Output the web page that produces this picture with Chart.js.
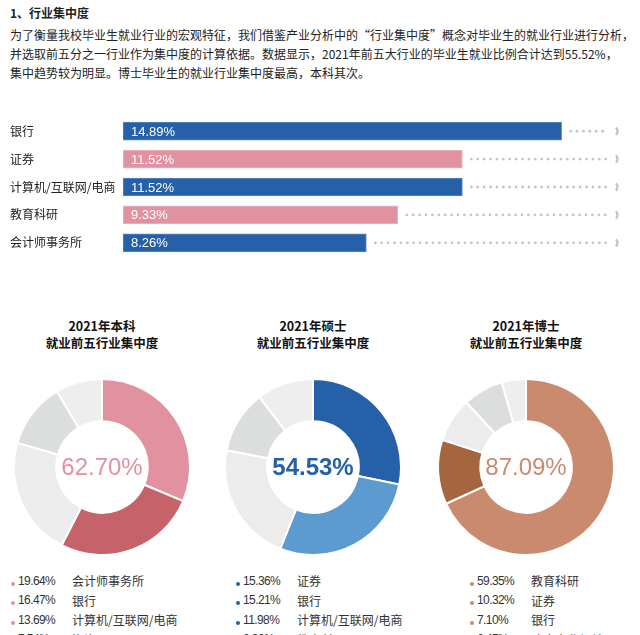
<!DOCTYPE html>
<html>
<head>
<meta charset="utf-8">
<script src="https://cdn.jsdelivr.net/npm/chart.js"></script>
<style>
  body { margin: 0; width: 640px; height: 635px; overflow: hidden; background: #fff;
    font-family: "Noto Sans CJK SC", sans-serif; color: #222; position: relative; }
  .title { position: absolute; left: 10px; top: 4px; font-size: 12px; font-weight: bold; }
  .intro { position: absolute; left: 10px; top: 25px; font-size: 12px; line-height: 19px; white-space: nowrap; }
  .box { position: absolute; }
  .pie-title { position: absolute; width: 200px; text-align: center; font-size: 12.5px; font-weight: bold; line-height: 17px; top: 317px; color: #111; }
  .legend { position: absolute; top: 571px; font-size: 12px; color: #333; }
  .legend .row { display: flex; align-items: center; height: 19.5px; white-space: nowrap; }
  .legend .dot { width: 4px; height: 4px; border-radius: 50%; margin-right: 3px; transform: translateY(3px); }
  .legend .val { width: 54px; font-family: "Liberation Sans", sans-serif; letter-spacing: -0.6px; }
</style>
</head>
<body>
<div class="title">1、行业集中度</div>
<div class="intro">为了衡量我校毕业生就业行业的宏观特征，我们借鉴产业分析中的“行业集中度”概念对毕业生的就业行业进行分析，<br>并选取前五分之一行业作为集中度的计算依据。数据显示，2021年前五大行业的毕业生就业比例合计达到55.52%，<br>集中趋势较为明显。博士毕业生的就业行业集中度最高，本科其次。</div>

<div class="box" style="left:0;top:110px;width:640px;height:154px;"><canvas id="bars"></canvas></div>

<div id="pies"></div>

<script>
// top industries, all graduates
const barCategories = ["银行", "证券", "计算机/互联网/电商", "教育科研", "会计师事务所"];
const barValues = [14.89, 11.52, 11.52, 9.33, 8.26];

// top five per degree
const pieTitles = ["2021年本科", "2021年硕士", "2021年博士"];
const bachelorNames = ["会计师事务所", "银行", "计算机/互联网/电商", "咨询", "证券"];
const bachelorValues = [19.64, 16.47, 13.69, 7.54, 5.36];
const masterNames = ["证券", "银行", "计算机/互联网/电商", "教育科研", "会计师事务所"];
const masterValues = [15.36, 15.21, 11.98, 6.30, 5.68];
const doctorNames = ["教育科研", "证券", "银行", "政府事业机关", "医疗卫生"];
const doctorValues = [59.35, 10.32, 7.10, 6.45, 3.87];

const BLUE = "#2560a8";
const PINK = "#e191a0";
const barColors = [BLUE, PINK, BLUE, PINK, BLUE];
const barBorders = ["#5a88c2", "#eeb9c2", "#5a88c2", "#eeb9c2", "#5a88c2"];

const pieSets = [
  { names: bachelorNames, values: bachelorValues, colors: ["#e191a0", "#c6636a", "#ececec", "#dcdedd", "#eeeeee"], cx: 102, legendX: 11 },
  { names: masterNames, values: masterValues, colors: ["#2560a8", "#5b9bd0", "#ececec", "#dcdedd", "#eeeeee"], cx: 313, legendX: 236 },
  { names: doctorNames, values: doctorValues, colors: ["#c98a6d", "#a5663f", "#ececec", "#dcdedd", "#eeeeee"], cx: 526, legendX: 470 },
];

window.addEventListener("load", (e) => {
  renderBars();
  renderPies();
});

/*************************************************************
 * Bar chart with dotted tracks
 *************************************************************/
const barDecor = {
  id: "barDecor",
  afterDatasetsDraw(chart) {
    const { ctx, chartArea } = chart;
    const x0 = chart.scales.x.getPixelForValue(0);
    chart.getDatasetMeta(0).data.forEach((bar, i) => {
      ctx.save();
      ctx.fillStyle = "#c4c4c4";
      for (let x = bar.x + 9; x < chartArea.right - 3; x += 6.4) {
        ctx.beginPath();
        ctx.arc(x, bar.y, 1.4, 0, Math.PI * 2);
        ctx.fill();
      }
      ctx.strokeStyle = "#c4c4c4";
      ctx.lineWidth = 2.4;
      ctx.beginPath();
      ctx.arc(chartArea.right + 1, bar.y, 4.5, -0.9, 0.9);
      ctx.stroke();

      ctx.fillStyle = "#fff";
      ctx.font = "13px 'Liberation Sans'";
      ctx.textBaseline = "middle";
      ctx.fillText(barValues[i].toFixed(2) + "%", x0 + 8, bar.y + 1);
      ctx.restore();
    });
  },
};

const renderBars = () => {
  new Chart(document.getElementById("bars"), {
    type: "bar",
    data: {
      labels: barCategories,
      datasets: [{
        data: barValues,
        backgroundColor: barColors,
        borderColor: barBorders,
        borderWidth: 1,
        borderSkipped: false,
        barThickness: 18,
      }],
    },
    options: {
      indexAxis: "y",
      animation: false,
      responsive: true,
      maintainAspectRatio: false,
      layout: { padding: { left: 10, right: 28, top: 0, bottom: 0 } },
      plugins: { legend: { display: false }, tooltip: { enabled: false } },
      scales: {
        x: { display: false, min: 0, max: 16.6 },
        y: {
          grid: { display: false },
          border: { display: false },
          afterFit: (scale) => { scale.width = 113; },
          ticks: {
            crossAlign: "far",
            padding: 0,
            color: "#222",
            font: { family: "Noto Sans CJK SC", size: 12 },
          },
        },
      },
    },
    plugins: [barDecor],
  });
};

/*************************************************************
 * Doughnuts
 *************************************************************/
const centerText = {
  id: "centerText",
  afterDraw(chart, args, opts) {
    const { ctx } = chart;
    const arc = chart.getDatasetMeta(0).data[0];
    ctx.save();
    ctx.fillStyle = opts.color;
    ctx.font = (opts.weight || "normal") + " 24px 'Liberation Sans'";
    ctx.textAlign = "center";
    ctx.textBaseline = "middle";
    ctx.fillText(opts.text, arc.x, arc.y + 1);
    ctx.restore();
  },
};

const renderPies = () => {
  const host = document.getElementById("pies");

  pieSets.forEach((set, idx) => {
    const title = document.createElement("div");
    title.className = "pie-title";
    title.style.left = set.cx - 100 + "px";
    title.innerHTML = pieTitles[idx] + "<br>就业前五行业集中度";
    host.appendChild(title);

    const box = document.createElement("div");
    box.className = "box";
    box.style.cssText = `left:${set.cx - 91}px;top:376px;width:182px;height:182px;`;
    const canvas = document.createElement("canvas");
    box.appendChild(canvas);
    host.appendChild(box);

    const total = set.values.reduce((a, b) => a + b, 0);

    new Chart(canvas, {
      type: "doughnut",
      data: {
        labels: set.names,
        datasets: [{
          data: set.values,
          backgroundColor: set.colors,
          borderColor: "#fff",
          borderWidth: 2,
        }],
      },
      options: {
        animation: false,
        responsive: true,
        maintainAspectRatio: false,
        cutout: "52%",
        layout: { padding: 2 },
        plugins: {
          legend: { display: false },
          tooltip: { enabled: false },
          centerText: {
            text: total.toFixed(2) + "%",
            color: set.colors[0],
            weight: idx === 1 ? "bold" : "normal",
          },
        },
      },
      plugins: [centerText],
    });

    const legend = document.createElement("div");
    legend.className = "legend";
    legend.style.left = set.legendX + "px";
    set.names.forEach((name, i) => {
      const row = document.createElement("div");
      row.className = "row";
      row.innerHTML = `<span class="dot" style="background:${set.colors[0]}"></span>` +
        `<span class="val">${set.values[i].toFixed(2)}%</span><span>${name}</span>`;
      legend.appendChild(row);
    });
    host.appendChild(legend);
  });
};
</script>
</body>
</html>
